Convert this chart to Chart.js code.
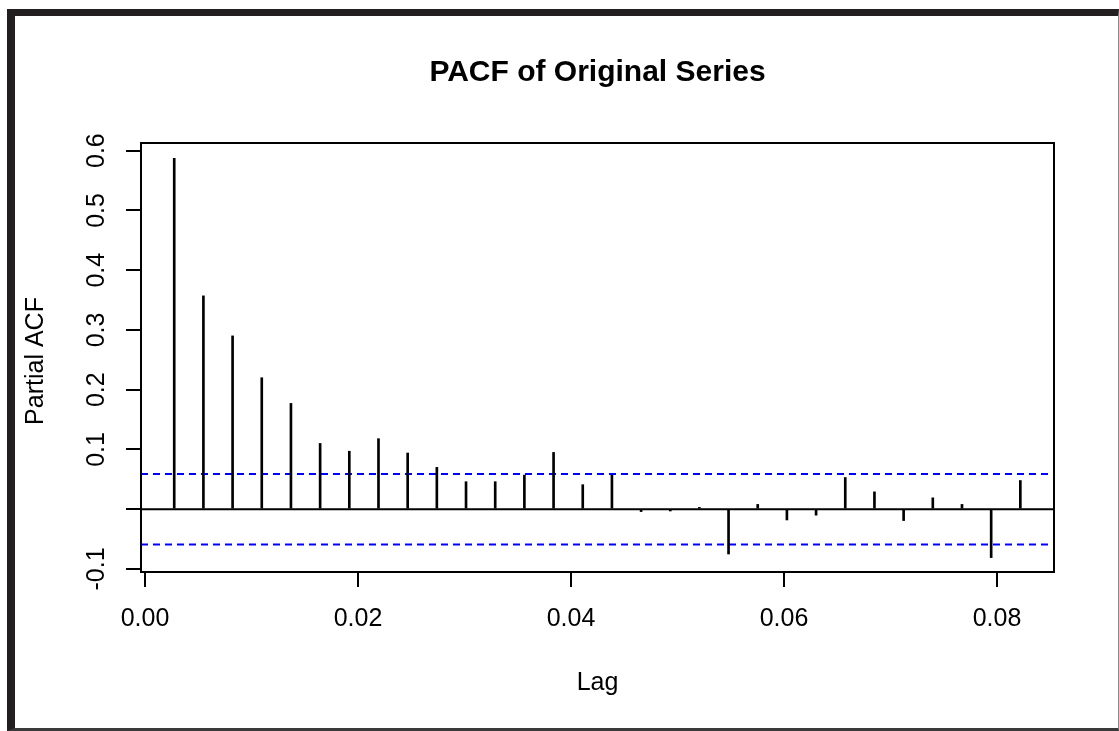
<!DOCTYPE html>
<html>
<head>
<meta charset="utf-8">
<title>PACF of Original Series</title>
<script src="https://cdn.jsdelivr.net/npm/chart.js@4"></script>
<style>
    body { margin: 0; background: #fff; }
    #wrap { position: relative; width: 1119px; height: 731px; overflow: hidden; }
    #pacfChart { position: absolute; left: 0; top: 0; }
    #frame {
        position: absolute; left: 7px; top: 9px; width: 1112px; height: 722px;
        box-sizing: border-box; pointer-events: none;
        border-left: 8px solid #231f20; border-top: 7px solid #231f20;
        border-right: 1px solid #8a8a8a; border-bottom: 3px solid #3a3a3a;
    }
</style>
</head>
<body>
<div id="wrap">
    <canvas id="pacfChart" width="1119" height="731"></canvas>
    <div id="frame"></div>
</div>
<script>
// lags (k / 365)
const lags = [0.00274, 0.00548, 0.00822, 0.01096, 0.01370, 0.01644, 0.01918, 0.02192, 0.02466, 0.02740,
              0.03014, 0.03288, 0.03562, 0.03836, 0.04110, 0.04384, 0.04658, 0.04932, 0.05205, 0.05479,
              0.05753, 0.06027, 0.06301, 0.06575, 0.06849, 0.07123, 0.07397, 0.07671, 0.07945, 0.08219];

// partial autocorrelations
const pacf = [0.587, 0.357, 0.290, 0.220, 0.177, 0.110, 0.097, 0.118, 0.094, 0.070,
              0.046, 0.046, 0.057, 0.095, 0.041, 0.057, -0.004, -0.003, 0.003, -0.075,
              0.008, -0.018, -0.010, 0.053, 0.029, -0.019, 0.019, 0.008, -0.081, 0.048];

// confidence bound
const ciBound = 0.059;

// ticks
const xTicks = [0.00, 0.02, 0.04, 0.06, 0.08];
const xTickLabels = ['0.00', '0.02', '0.04', '0.06', '0.08'];
const yTicks = [-0.1, 0, 0.1, 0.2, 0.3, 0.4, 0.5, 0.6];
const yTickLabels = ['-0.1', '', '0.1', '0.2', '0.3', '0.4', '0.5', '0.6'];

// axis limits
const xMin = -0.00038, xMax = 0.08535;
const yMin = -0.1051, yMax = 0.6128;

const FONT = "'Liberation Sans', Arial, sans-serif";

document.addEventListener('DOMContentLoaded', function() {
    // title, box, rotated y labels (R style)
    const rPlot = {
        id: 'rPlot',
        afterDraw(chart) {
            const ctx = chart.ctx;
            const area = chart.chartArea;
            const y = chart.scales.y;
            ctx.save();
            ctx.strokeStyle = '#000';
            ctx.lineWidth = 2;
            ctx.strokeRect(area.left, area.top, area.right - area.left, area.bottom - area.top);

            ctx.fillStyle = '#000';
            ctx.textAlign = 'center';
            ctx.textBaseline = 'middle';
            ctx.font = 'bold 30px ' + FONT;
            ctx.fillText('PACF of Original Series', (area.left + area.right) / 2, 73);

            ctx.font = '25px ' + FONT;
            ctx.textBaseline = 'alphabetic';
            yTicks.forEach(function(v, i) {
                if (!yTickLabels[i]) return;
                ctx.save();
                ctx.translate(104, y.getPixelForValue(v));
                ctx.rotate(-Math.PI / 2);
                ctx.fillText(yTickLabels[i], 0, 0);
                ctx.restore();
            });
            ctx.save();
            ctx.translate(43, 361);
            ctx.rotate(-Math.PI / 2);
            ctx.fillText('Partial ACF', 0, 0);
            ctx.restore();
            ctx.restore();
        }
    };

    const hLine = function(v, dashed) {
        return {
            type: 'line',
            data: [{ x: xMin, y: v }, { x: xMax, y: v }],
            borderColor: dashed ? '#0000ff' : '#000',
            borderWidth: 2,
            borderDash: dashed ? [7, 5] : [],
            pointRadius: 0,
            fill: false
        };
    };

    new Chart(document.getElementById('pacfChart'), {
        type: 'bar',
        data: {
            datasets: [
                {
                    type: 'bar',
                    data: lags.map(function(l, i) { return { x: l, y: pacf[i] }; }),
                    backgroundColor: '#000',
                    borderWidth: 0,
                    barThickness: 2
                },
                hLine(0, false),
                hLine(ciBound, true),
                hLine(-ciBound, true)
            ]
        },
        options: {
            responsive: false,
            animation: false,
            events: [],
            layout: { padding: { top: 143, right: 65, left: 0, bottom: 0 } },
            plugins: {
                legend: { display: false },
                title: { display: false },
                tooltip: { enabled: false }
            },
            scales: {
                x: {
                    type: 'linear',
                    min: xMin,
                    max: xMax,
                    offset: false,
                    afterBuildTicks: function(scale) {
                        scale.ticks = xTicks.map(function(v) { return { value: v }; });
                    },
                    afterFit: function(scale) { scale.height = 159; },
                    grid: {
                        offset: false,
                        drawOnChartArea: false,
                        drawTicks: true,
                        tickLength: 15,
                        color: '#000',
                        lineWidth: 2
                    },
                    border: { display: false },
                    ticks: {
                        autoSkip: false,
                        maxRotation: 0,
                        padding: 17,
                        color: '#000',
                        font: { family: FONT, size: 25 },
                        callback: function(v, i) { return xTickLabels[i]; }
                    },
                    title: {
                        display: true,
                        text: 'Lag',
                        color: '#000',
                        font: { family: FONT, size: 25 },
                        padding: { top: 0, bottom: 33 }
                    }
                },
                y: {
                    type: 'linear',
                    min: yMin,
                    max: yMax,
                    afterBuildTicks: function(scale) {
                        scale.ticks = yTicks.map(function(v) { return { value: v }; });
                    },
                    afterFit: function(scale) { scale.width = 141; },
                    grid: {
                        drawOnChartArea: false,
                        drawTicks: true,
                        tickLength: 15,
                        color: '#000',
                        lineWidth: 2
                    },
                    border: { display: false },
                    ticks: { display: false }
                }
            }
        },
        plugins: [rPlot]
    });
});
</script>
</body>
</html>
